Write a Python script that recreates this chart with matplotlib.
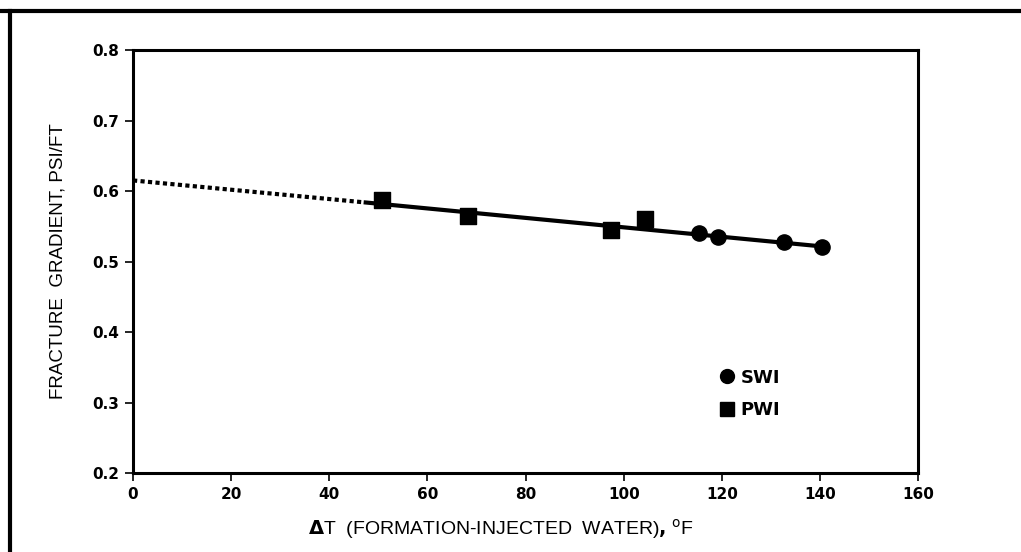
import matplotlib.pyplot as plt
from matplotlib.lines import Line2D

# SWI (circles) and PWI (squares) data
swi_dt = [115.4, 119.3, 132.6, 140.4]
swi_fg = [0.540, 0.535, 0.527, 0.521]
pwi_dt = [50.7, 68.2, 97.4, 104.4]
pwi_fg = [0.587, 0.564, 0.545, 0.561]

# fitted line: dotted extrapolation then solid part
extrap_dt = [0, 47]
extrap_fg = [0.615, 0.584]
fit_dt = [47, 141]
fit_fg = [0.584, 0.521]

x_ticks = [0, 20, 40, 60, 80, 100, 120, 140, 160]
y_ticks = [0.2, 0.3, 0.4, 0.5, 0.6, 0.7, 0.8]

plt.rcParams['font.family'] = ['Liberation Sans', 'DejaVu Sans']

fig = plt.figure(figsize=(10.21, 5.52), dpi=100)
ax = fig.add_axes([0.1303, 0.1431, 0.7689, 0.7663])

ax.plot(extrap_dt, extrap_fg, color='black', lw=3, linestyle=(0, (1, 0.8)))
ax.plot(fit_dt, fit_fg, color='black', lw=3, solid_capstyle='butt')
ax.scatter(swi_dt, swi_fg, marker='o', s=120, color='black', zorder=3)
ax.scatter(pwi_dt, pwi_fg, marker='s', s=145, color='black', zorder=3)

ax.set_xlim(0, 160)
ax.set_ylim(0.2, 0.8)
ax.set_xticks(x_ticks)
ax.set_yticks(y_ticks)
ax.set_xticklabels([str(v) for v in x_ticks], fontweight='bold', fontsize=11,
                   family='DejaVu Sans')
ax.set_yticklabels([f'{v:.1f}' for v in y_ticks], fontweight='bold', fontsize=11,
                   family='DejaVu Sans')
ax.tick_params(direction='out', length=6, width=1.2, pad=4)
for s in ax.spines.values():
    s.set_linewidth(2.2)

ax.set_ylabel('FRACTURE  GRADIENT, PSI/FT', fontsize=13.5)
ax.yaxis.set_label_coords(-0.085, 0.5)
ax.set_xlabel(r'$\mathbf{\Delta}$T  (FORMATION-INJECTED  WATER)$\mathbf{,}$ $^{\rm o}$F',
              fontsize=14)
ax.xaxis.set_label_coords(0.469, -0.105)

handles = [Line2D([], [], marker='o', color='black', linestyle='none', markersize=10),
           Line2D([], [], marker='s', color='black', linestyle='none', markersize=10)]
ax.legend(handles, ['SWI', 'PWI'], loc='upper left', bbox_to_anchor=(0.722, 0.285),
          frameon=False, prop={'weight': 'bold', 'size': 13, 'family': 'DejaVu Sans'},
          handletextpad=0.15, labelspacing=0.8, handlelength=1.2)

# scanned page border (top and left)
fig.add_artist(Line2D([0, 1], [1 - 10.5 / 552, 1 - 10.5 / 552], color='black', lw=3,
                      transform=fig.transFigure))
fig.add_artist(Line2D([9.5 / 1021, 9.5 / 1021], [0, 1 - 10.5 / 552], color='black', lw=3,
                      transform=fig.transFigure))

fig.savefig('out.png', dpi=100)
